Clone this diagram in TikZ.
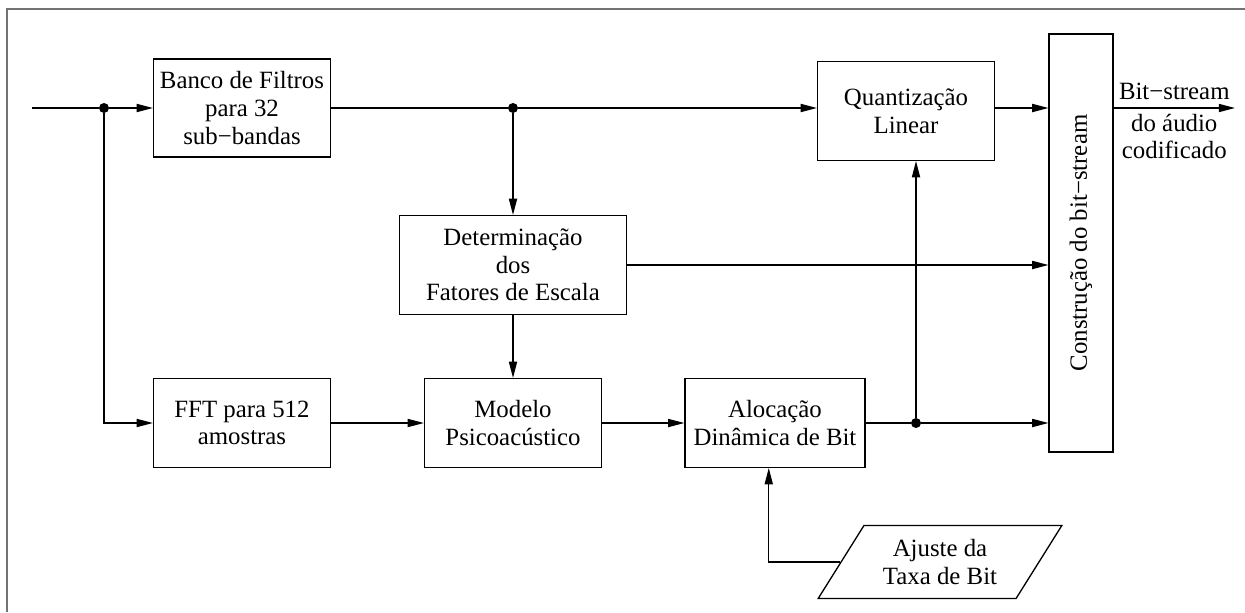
\documentclass[tikz,border=0pt]{standalone}
\usepackage{fontspec}
\setmainfont{Liberation Serif}
\usepackage{graphicx}
\usetikzlibrary{arrows.meta, shapes.geometric}

\begin{document}
\begin{tikzpicture}[
    x=0.16mm, y=-0.16mm,
    every node/.style={font=\fontsize{11.3}{12.6}\selectfont},
    block/.style    ={draw, line width=0.6pt, align=center, inner sep=2pt,
                      minimum width=2.83cm},
    arr/.style      ={-{Triangle[length=2.6mm, width=1.3mm]}, line width=0.6pt},
    wire/.style     ={line width=0.6pt},
    junction/.style ={circle, fill, inner sep=0pt, minimum size=1.6mm},
    frameline/.style={line width=0.8pt, gray!90!black}
]

% ---------- page and frame ----------
\useasboundingbox (0,0) rectangle (1245,612);
\draw[frameline] (7,612) -- (7,9) -- (1245,9);

% ---------- blocks ----------
\node[block, minimum height=1.57cm] (banco)  at (242,108) {Banco de Filtros\\para 32\\sub−bandas};
\node[block, minimum height=1.58cm] (quant)  at (906,111) {Quantização\\Linear};
\node[block, minimum width=3.63cm, minimum height=1.58cm] (det) at (513,265)
    {Determinação\\dos\\Fatores de Escala};
\node[block, minimum height=1.42cm] (fft)    at (242,423) {FFT para 512\\amostras};
\node[block, minimum height=1.42cm] (modelo) at (513,423) {Modelo\\Psicoacústico};
\node[block, minimum width=2.88cm, minimum height=1.42cm] (aloc) at (775,423)
    {Alocação\\Dinâmica de Bit};
\node[block, minimum width=1.02cm, minimum height=6.69cm] (constr) at (1081,243)
    {\rotatebox{90}{Construção do bit−stream}};
\node[draw, line width=0.6pt, trapezium, trapezium left angle=57, trapezium right angle=123,
      trapezium stretches=true, minimum width=3.92cm, minimum height=1.17cm, align=center]
    (taxa) at (940,562) {Ajuste da\\Taxa de Bit};

% ---------- junctions ----------
\coordinate (in)  at (32,108);
\coordinate (out) at (1235,108);
\node[junction] (dotin) at (104,108) {};
\node[junction] (dots)  at (513,108) {};
\node[junction] (dotq)  at (916,423) {};

% ---------- top row ----------
\draw[wire] (in) -- (dotin);
\draw[arr] (dotin) -- (banco.west);
\draw[wire] (banco.east) -- (dots);
\draw[arr] (dots) -- (dots -| quant.west);
\draw[arr] (dots -| quant.east) -- (dots -| constr.west);
\draw[arr] (dots -| constr.east) -- (out)
    node[midway, above=0pt] {Bit−stream}
    node[midway, below=-1pt, align=center] {do áudio\\codificado};

% ---------- scale factors ----------
\draw[arr] (dots) -- (det.north);
\draw[arr] (det.east) -- (det.east -| constr.west);
\draw[arr] (det.south) -- (modelo.north);

% ---------- bottom row ----------
\draw[arr] (dotin) |- (fft.west);
\draw[arr] (fft.east) -- (modelo.west);
\draw[arr] (modelo.east) -- (aloc.west);
\draw[wire] (aloc.east) -- (dotq);
\draw[arr] (dotq) -- (dotq -| constr.west);
\draw[arr] (dotq) -- (dotq |- quant.south);

% ---------- bit rate ----------
\draw[arr] (taxa.west) -| ([xshift=-1mm]aloc.south);

\end{tikzpicture}
\end{document}
